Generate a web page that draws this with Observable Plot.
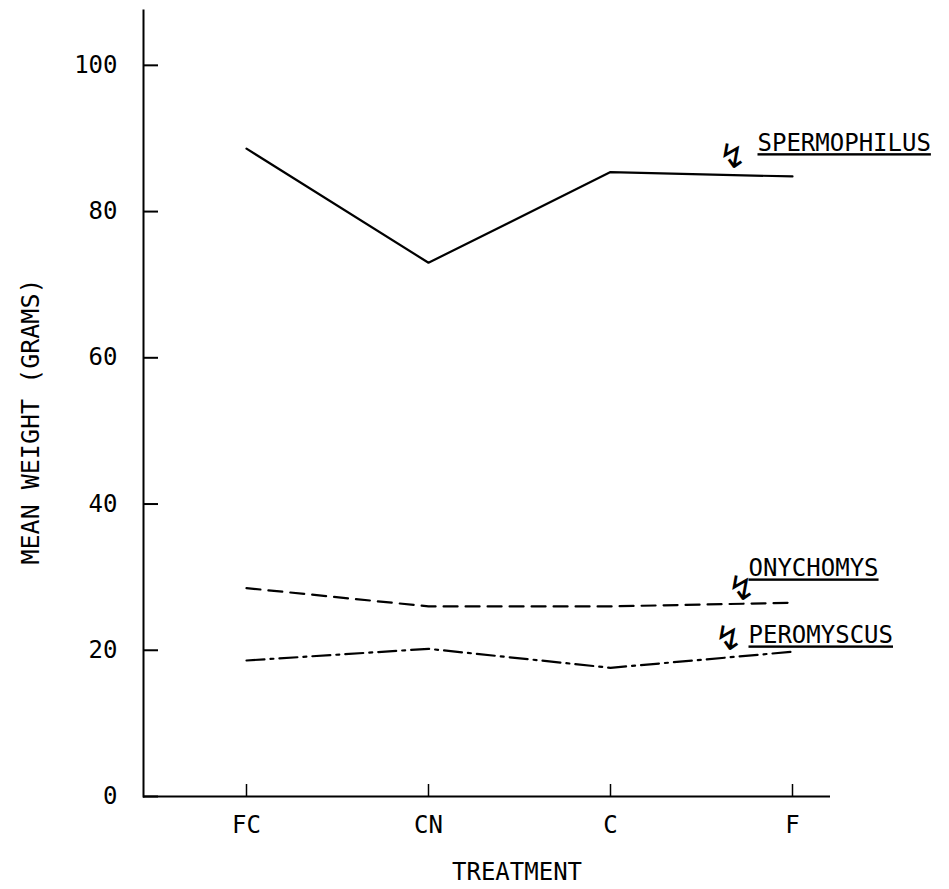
<!DOCTYPE html>
<html>
<head>
<meta charset="utf-8">
<script src="https://cdn.jsdelivr.net/npm/d3@7"></script>
<script src="https://cdn.jsdelivr.net/npm/@observablehq/plot@0.6"></script>
<style>
  html, body { margin: 0; padding: 0; background: #fff; }
</style>
</head>
<body>
<div id="chart"></div>
<script>
const treatments = ["FC", "CN", "C", "F"];
const spermophilus = [88.6, 73.0, 85.4, 84.8];
const onychomys = [28.5, 26.0, 26.0, 26.5];
const peromyscus = [18.6, 20.2, 17.6, 19.8];
const speciesNames = ["SPERMOPHILUS", "ONYCHOMYS", "PEROMYSCUS"];
const yTicks = [0, 20, 40, 60, 80, 100];
const xLabel = "TREATMENT";
const yLabel = "MEAN WEIGHT (GRAMS)";

const seriesValues = [spermophilus, onychomys, peromyscus];
const rows = seriesValues.map((vals, i) =>
  treatments.map((t, j) => ({species: speciesNames[i], treatment: t, weight: vals[j]})));

// styles (not data)
const dashes = [null, "14,8", "18,6,3,6"];
const labelOffsets = [{dx: -35, dy: -33}, {dx: -44, dy: -34}, {dx: -44, dy: -16}];
const arrowOffsets = [{dx: -60, dy: -19}, {dx: -51, dy: -14}, {dx: -64, dy: -13}];

const marks = [
  Plot.ruleY([0], {strokeWidth: 2}),
  Plot.frame({anchor: "left", strokeWidth: 2}),
  Plot.axisY({ticks: yTicks, tickSize: -15, tickPadding: 41, label: null, strokeWidth: 2, fontSize: 24}),
  Plot.axisX({tickSize: -12, tickPadding: 31, label: null, strokeWidth: 1.5, fontSize: 24}),
  Plot.text([yLabel], {frameAnchor: "left", textAnchor: "middle", rotate: -90, dx: -113, dy: 18, fontSize: 25}),
  Plot.text([xLabel], {frameAnchor: "bottom", dx: 30, dy: 83, fontSize: 24})
];
rows.forEach((r, i) => {
  marks.push(Plot.line(r, {x: "treatment", y: "weight", stroke: "black", strokeWidth: 2.2,
    strokeDasharray: dashes[i]}));
  const last = r[r.length - 1];
  marks.push(Plot.text([last], {x: "treatment", y: "weight", text: "species", textAnchor: "start",
    dx: labelOffsets[i].dx, dy: labelOffsets[i].dy, fontSize: 24}));
  marks.push(Plot.text([last], {x: "treatment", y: "weight", text: () => "\u21AF",
    dx: arrowOffsets[i].dx, dy: arrowOffsets[i].dy, fontSize: 34, fontFamily: "DejaVu Sans"}));
});

const chart = Plot.plot({
  width: 949,
  height: 889,
  marginLeft: 143,
  marginRight: 119,
  marginTop: 10,
  marginBottom: 93,
  style: {fontFamily: "'DejaVu Sans Mono', monospace", fontSize: "24px", color: "black", background: "white"},
  x: {type: "point", domain: treatments, range: [245, 792], padding: 0},
  y: {domain: [0, 107.5]},
  marks
});
document.getElementById("chart").appendChild(chart);

// underline the species labels (styling only)
d3.select(chart).selectAll("text")
  .filter(function() { return speciesNames.includes(this.textContent); })
  .style("text-decoration", "underline")
  .style("text-decoration-thickness", "2px")
  .style("text-underline-offset", "4px");
</script>
</body>
</html>
